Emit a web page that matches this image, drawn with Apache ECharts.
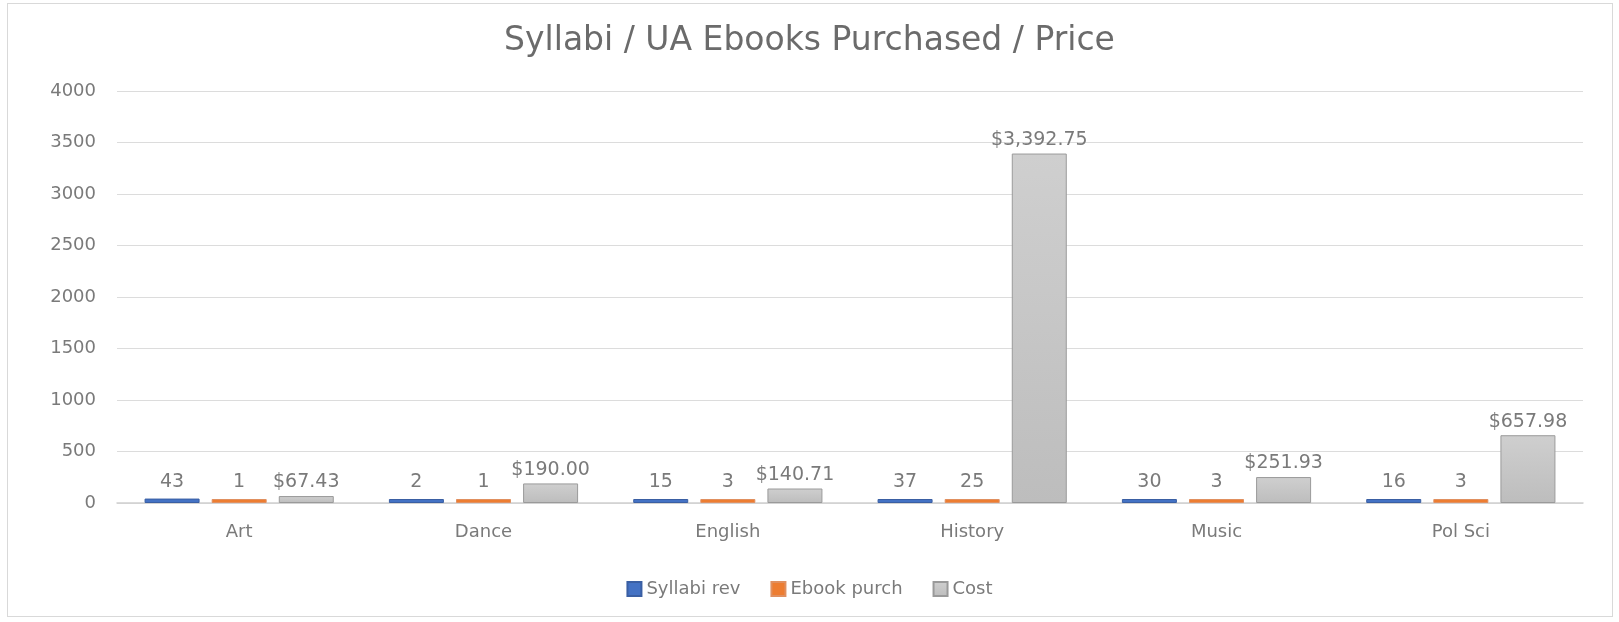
<!DOCTYPE html>
<html>
<head>
<meta charset="utf-8">
<script src="https://cdn.jsdelivr.net/npm/echarts@6/dist/echarts.min.js"></script>
<style>
html,body{margin:0;padding:0;background:#fff;}
#frame{position:absolute;left:7px;top:3px;width:1604px;height:612px;border:1px solid #d9d9d9;}
#chart{position:absolute;left:0;top:0;width:1619px;height:622px;}
</style>
</head>
<body>
<div id="frame"></div>
<div id="chart"></div>
<script>
const categories = ['Art', 'Dance', 'English', 'History', 'Music', 'Pol Sci'];
const syllabiRev = [43, 2, 15, 37, 30, 16];
const ebookPurch = [1, 1, 3, 25, 3, 3];
const cost = [67.43, 190.00, 140.71, 3392.75, 251.93, 657.98];
const yTicks = [0, 500, 1000, 1500, 2000, 2500, 3000, 3500, 4000];

const FONT = 'DejaVu Sans';
const TXT = '#7a7a7a';

function money(v) {
  return '$' + v.toLocaleString('en-US', {minimumFractionDigits: 2, maximumFractionDigits: 2});
}

const chart = echarts.init(document.getElementById('chart'));
chart.setOption({
  animation: false,
  textStyle: {fontFamily: FONT},
  title: {
    text: 'Syllabi / UA Ebooks Purchased / Price',
    left: 'center',
    top: 20,
    textStyle: {fontFamily: FONT, fontSize: 33, fontWeight: 'normal', color: '#6b6b6b'}
  },
  legend: {
    bottom: 19,
    left: 'center',
    itemWidth: 14,
    itemHeight: 14,
    itemGap: 30,
    icon: 'rect',
    textStyle: {fontFamily: FONT, fontSize: 18, color: TXT},
    data: ['Syllabi rev', 'Ebook purch', 'Cost']
  },
  grid: {left: 117, right: 36, top: 91, bottom: 119, containLabel: false},
  xAxis: {
    type: 'category',
    data: categories,
    axisLine: {lineStyle: {color: '#d0d0d0', width: 1.5}},
    axisTick: {show: false},
    axisLabel: {fontFamily: FONT, fontSize: 18, color: TXT, margin: 20}
  },
  yAxis: {
    type: 'value',
    min: yTicks[0],
    max: yTicks[yTicks.length - 1],
    interval: 500,
    axisLine: {show: false},
    axisTick: {show: false},
    axisLabel: {fontFamily: FONT, fontSize: 18, color: TXT, margin: 21, formatter: v => String(v)},
    splitLine: {lineStyle: {color: '#dcdcdc', width: 1.2}}
  },
  series: [
    {
      name: 'Syllabi rev', type: 'bar', data: syllabiRev,
      barWidth: 55, barGap: '22%', barMinHeight: 4,
      itemStyle: {color: '#4472C4', borderColor: '#3a5fa3', borderWidth: 1},
      label: {show: true, position: 'top', distance: 7, fontFamily: FONT, fontSize: 19, color: TXT}
    },
    {
      name: 'Ebook purch', type: 'bar', data: ebookPurch,
      barWidth: 55, barGap: '22%', barMinHeight: 4,
      itemStyle: {color: '#ED7D31', borderColor: '#e09060', borderWidth: 1},
      label: {show: true, position: 'top', distance: 7, fontFamily: FONT, fontSize: 19, color: TXT}
    },
    {
      name: 'Cost', type: 'bar', data: cost,
      barWidth: 55, barGap: '22%',
      itemStyle: {
        color: new echarts.graphic.LinearGradient(0, 0, 0, 1, [
          {offset: 0, color: '#cfcfcf'}, {offset: 1, color: '#bdbdbd'}
        ]),
        borderColor: '#9a9a9a', borderWidth: 1
      },
      label: {show: true, position: 'top', distance: 4, fontFamily: FONT, fontSize: 19, color: TXT,
        formatter: p => money(p.value)}
    }
  ]
});
</script>
</body>
</html>
